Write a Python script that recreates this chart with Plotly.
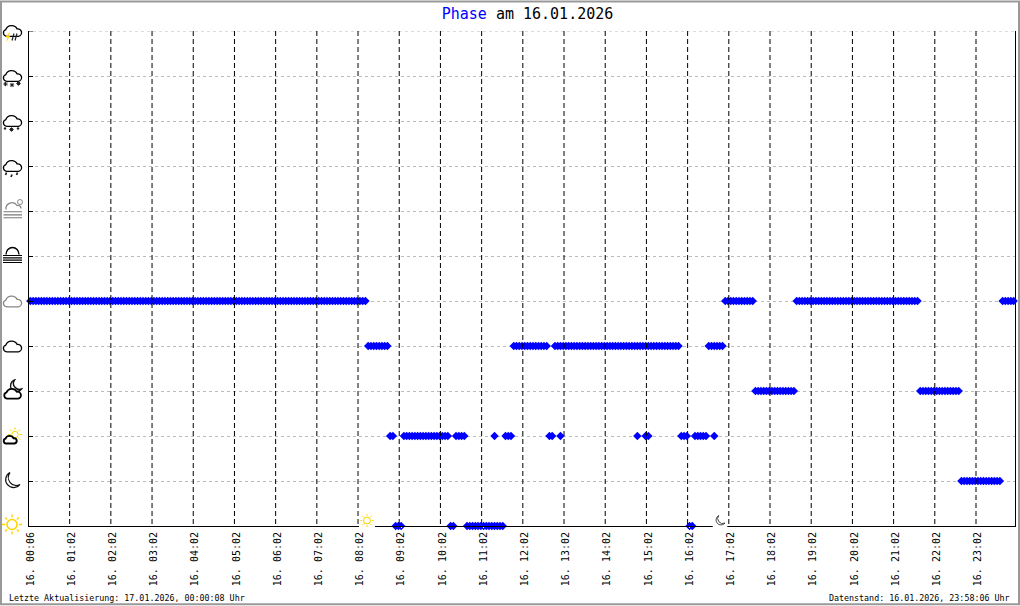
import base64
import plotly.graph_objects as go

# one value per sample, 15 samples per row (one labelled tick each)
phase = [
    5, 5, 5, 5, 5, 5, 5, 5, 5, 5, 5, 5, 5, 5, 5,
    5, 5, 5, 5, 5, 5, 5, 5, 5, 5, 5, 5, 5, 5, 5,
    5, 5, 5, 5, 5, 5, 5, 5, 5, 5, 5, 5, 5, 5, 5,
    5, 5, 5, 5, 5, 5, 5, 5, 5, 5, 5, 5, 5, 5, 5,
    5, 5, 5, 5, 5, 5, 5, 5, 5, 5, 5, 5, 5, 5, 5,
    5, 5, 5, 5, 5, 5, 5, 5, 5, 5, 5, 5, 5, 5, 5,
    5, 5, 5, 5, 5, 5, 5, 5, 5, 5, 5, 5, 5, 5, 5,
    5, 5, 5, 5, 5, 5, 5, 5, 5, 5, 5, 5, 5, 5, 5,
    5, 5, 5, 4, 4, 4, 4, 4, 4, 4, 4, 2, 2, 0, 0,
    0, 2, 2, 2, 2, 2, 2, 2, 2, 2, 2, 2, 2, 2, 2,
    2, 2, 2, 0, 0, 2, 2, 2, 2, 0, 0, 0, 0, 0, 0,
    0, 0, 0, 0, 2, 0, 0, 0, 2, 2, 2, 4, 4, 4, 4,
    4, 4, 4, 4, 4, 4, 4, 4, 4, 2, 2, 4, 4, 2, 4,
    4, 4, 4, 4, 4, 4, 4, 4, 4, 4, 4, 4, 4, 4, 4,
    4, 4, 4, 4, 4, 4, 4, 4, 4, 4, 4, 2, 4, 4, 2,
    2, 4, 4, 4, 4, 4, 4, 4, 4, 4, 4, 4, 2, 2, 2,
    0, 0, 2, 2, 2, 2, 2, 4, 4, 2, 4, 4, 4, 5, 5,
    5, 5, 5, 5, 5, 5, 5, 5, 5, 3, 3, 3, 3, 3, 3,
    3, 3, 3, 3, 3, 3, 3, 3, 3, 5, 5, 5, 5, 5, 5,
    5, 5, 5, 5, 5, 5, 5, 5, 5, 5, 5, 5, 5, 5, 5,
    5, 5, 5, 5, 5, 5, 5, 5, 5, 5, 5, 5, 5, 5, 5,
    5, 5, 5, 5, 5, 5, 5, 5, 5, 3, 3, 3, 3, 3, 3,
    3, 3, 3, 3, 3, 3, 3, 3, 3, 1, 1, 1, 1, 1, 1,
    1, 1, 1, 1, 1, 1, 1, 1, 1, 5, 5, 5, 5, 5,
]

# samples where the band of one phase carries on under a short change to another
extra_idx = [169, 193, 221, 224, 225, 249]
extra_phase = [0, 4, 4, 4, 4, 4]

tick_labels = ["16. 00:06", "16. 01:02", "16. 02:02", "16. 03:02", "16. 04:02", "16. 05:02",
               "16. 06:02", "16. 07:02", "16. 08:02", "16. 09:02", "16. 10:02", "16. 11:02",
               "16. 12:02", "16. 13:02", "16. 14:02", "16. 15:02", "16. 16:02", "16. 17:02",
               "16. 18:02", "16. 19:02", "16. 20:02", "16. 21:02", "16. 22:02", "16. 23:02"]
levels = [0, 1, 2, 3, 4, 5, 6, 7, 8, 9, 10, 11]

W, H = 1020, 606
L, R, T, B = 29, 5, 30.5, 79.5
MONO = "DejaVu Sans Mono"


def px(x):
    return (x - L) / (W - L - R)


def py(y):
    return 1 - (y - T) / (H - T - B)


CLOUD = "M6 17a4 4 0 0 1 -1-7.8a7 6.5 0 0 1 13-.7a4.3 4.3 0 0 1 1.5 8.5z"
YEL = "#FFD500"


def cloud(color="#000", top=3, width=1.5):
    return f'<path d="{CLOUD}" transform="translate(1.5 {top}) scale(.87)" fill="none" stroke="{color}" stroke-width="{width}"/>'


def rays(cx, cy, r1, r2, color=YEL, width=1.4):
    out = ""
    for dx, dy in [(1, 0), (-1, 0), (0, 1), (0, -1), (.7, .7), (-.7, .7), (.7, -.7), (-.7, -.7)]:
        out += (f'<line x1="{cx+dx*r1}" y1="{cy+dy*r1}" x2="{cx+dx*r2}" y2="{cy+dy*r2}" '
                f'stroke="{color}" stroke-width="{width}"/>')
    return out


def star(cx, cy, r):
    return rays(cx, cy, 0, r, "#222", 1)


icons = {
    "sun": f'<circle cx="12" cy="12" r="5" fill="#fff" stroke="{YEL}" stroke-width="1.6"/>' + rays(12, 12, 7, 10),
    "moon": '<path d="M10 4a8 8 0 1 0 10 12a8 8 0 0 1 -10 -12z" fill="none" stroke="#111" stroke-width="1.2"/>',
    "sun_cloud": f'<circle cx="15" cy="11" r="3.2" fill="#fff" stroke="{YEL}"/>' + rays(15, 11, 4.6, 7.2, YEL, 1)
                 + f'<path d="{CLOUD}" transform="translate(2.4 9.5) scale(.62)" fill="#fff" stroke="#000" stroke-width="3"/>',
    "moon_cloud": '<path d="M14.5 1.5a6 6 0 1 0 7 9a6 6 0 0 1 -7 -9z" fill="none" stroke="#111" stroke-width="1.4"/>'
                  + f'<path d="{CLOUD}" transform="translate(2.5 6.5) scale(.8)" fill="#fff" stroke="#000" stroke-width="2.2"/>',
    "cloud": cloud("#000", 3.5),
    "gray_cloud": cloud("#888", 3.5),
    "fog": '<path d="M6 11a6.5 7 0 0 1 13 0" fill="none" stroke="#000" stroke-width="1.4"/>'
           + "".join(f'<line x1="3" x2="22" y1="{y}" y2="{y}" stroke="#000" stroke-width="1.2"/>' for y in (12, 14.3, 16.6, 19)),
    "mist": '<path d="M6 11a6 6 0 0 1 11 -4a3 3 0 0 1 4 3" fill="none" stroke="#888" stroke-width="1.3"/>'
            '<circle cx="20" cy="3.5" r="2.5" fill="none" stroke="#888"/>'
            + "".join(f'<line x1="3.5" x2="22" y1="{y}" y2="{y}" stroke="#777" stroke-width="1.1"/>' for y in (13.2, 16.4, 19.2)),
    "rain": cloud() + "".join(f'<line x1="{x+1}" x2="{x}" y1="{y}" y2="{y+2.5}" stroke="#222" stroke-width="1.7"/>'
                              for x, y in [(5.5, 19), (11, 21), (16.5, 19)]),
    "sleet": cloud() + star(11.5, 21, 2.2) + "".join(f'<circle cx="{x}" cy="20" r="1.2" fill="#222"/>' for x in (5, 18)),
    "snow": cloud() + star(5.5, 20.5, 2.2) + star(12, 21.5, 2.2) + star(18.5, 20, 2.2),
    "thunder": cloud() + f'<path d="M9 14l-3.5 5h2l-1.5 5 4-6.5h-2l2-3.5z" fill="{YEL}"/>'
               + "".join(f'<line x1="{x+1}" x2="{x-1}" y1="15" y2="22" stroke="#222" stroke-width="1.2"/>' for x in (13, 16)),
}
level_icons = ["sun", "moon", "sun_cloud", "moon_cloud", "cloud", "gray_cloud",
               "fog", "mist", "rain", "sleet", "snow", "thunder"]


def icon_image(name, cx, cy, size=24, white=False):
    bg = '<rect width="24" height="24" fill="#fff"/>' if white else ""
    svg = f'<svg xmlns="http://www.w3.org/2000/svg" viewBox="0 0 24 24" width="24" height="24">{bg}{icons[name]}</svg>'
    src = "data:image/svg+xml;base64," + base64.b64encode(svg.encode()).decode()
    return dict(source=src, xref="paper", yref="paper", x=px(cx), y=py(cy), sizex=size / (W - L - R),
                sizey=size / (H - T - B), xanchor="center", yanchor="middle", sizing="stretch", layer="above")


images = [icon_image(n, 12, 526 - lv * 45.09, 24) for lv, n in zip(levels, level_icons)]
images[0] = icon_image("sun", 12, 525, 24)
images += [icon_image("sun", 367, 521, 16, True), icon_image("moon", 720, 521, 15, True)]

tick_idx = list(range(0, len(tick_labels) * 15, 15))

fig = go.Figure()
fig.add_trace(go.Scatter(x=list(range(len(phase))) + extra_idx, y=phase + extra_phase, mode="markers", cliponaxis=False,
                         marker=dict(symbol="diamond", size=6.5, color="#0000FF", line=dict(width=0))))

# the dashed hour lines sit slightly left of the labelled sample and run over the markers
for t in tick_idx[1:]:
    fig.add_shape(type="line", xref="x", yref="paper", x0=t - 0.7, x1=t - 0.7, y0=1, y1=0, layer="above",
                  line=dict(color="#000", width=1, dash="5px,3px"))

# plotly leaves out the top gridline and tick
fig.add_shape(type="line", xref="paper", yref="y", x0=px(33), x1=1, y0=11, y1=11, layer="below",
              line=dict(color="#BBBBBB", width=1, dash="3px,3px"))
fig.add_shape(type="line", xref="paper", yref="y", x0=0, x1=px(33), y0=11, y1=11, layer="below",
              line=dict(color="#000", width=1))

fig.add_shape(type="rect", xref="paper", yref="paper", x0=px(1), x1=px(1019), y0=py(1), y1=py(605),
              line=dict(color="#999", width=2), layer="below")

fig.add_annotation(xref="paper", yref="paper", x=px(7), y=py(599), xanchor="left", yanchor="middle", showarrow=False,
                   text="Letzte Aktualisierung: 17.01.2026, 00:00:08 Uhr", font=dict(family=MONO, size=8.33, color="#000"))
fig.add_annotation(xref="paper", yref="paper", x=px(1012), y=py(599), xanchor="right", yanchor="middle", showarrow=False,
                   text="Datenstand: 16.01.2026, 23:58:06 Uhr", font=dict(family=MONO, size=8.33, color="#000"))

fig.update_layout(
    width=W, height=H, margin=dict(l=L, r=R, t=T, b=B), paper_bgcolor="#fff", plot_bgcolor="#fff", showlegend=False,
    title=dict(text='<span style="color:#0000FF">Phase</span> am 16.01.2026', x=px(527.5), xref="paper", xanchor="center",
               y=1 - 14 / H, yanchor="middle", font=dict(family=MONO, size=15, color="#000")),
    images=images,
)
fig.update_xaxes(range=[-0.5, 358.5], tickmode="array", tickvals=tick_idx, ticktext=tick_labels, tickangle=-90,
                 tickfont=dict(family=MONO, size=10, color="#000"), showgrid=False, zeroline=False,
                 showline=True, linecolor="#000", linewidth=1, ticks="outside", ticklen=1, tickcolor="#fff")
fig.update_yaxes(range=[0, 11], tickmode="array", tickvals=levels, showticklabels=False, showgrid=True,
                 gridcolor="#BBBBBB", griddash="3px,3px", gridwidth=1, zeroline=False, showline=True, mirror=True,
                 linecolor="#000", linewidth=1, ticks="inside", ticklen=4, tickcolor="#000")

# plotly's page keeps the browser's default body margin otherwise
fig.write_html("out.html", post_script="document.body.style.margin='0';", config=dict(displayModeBar=False))
